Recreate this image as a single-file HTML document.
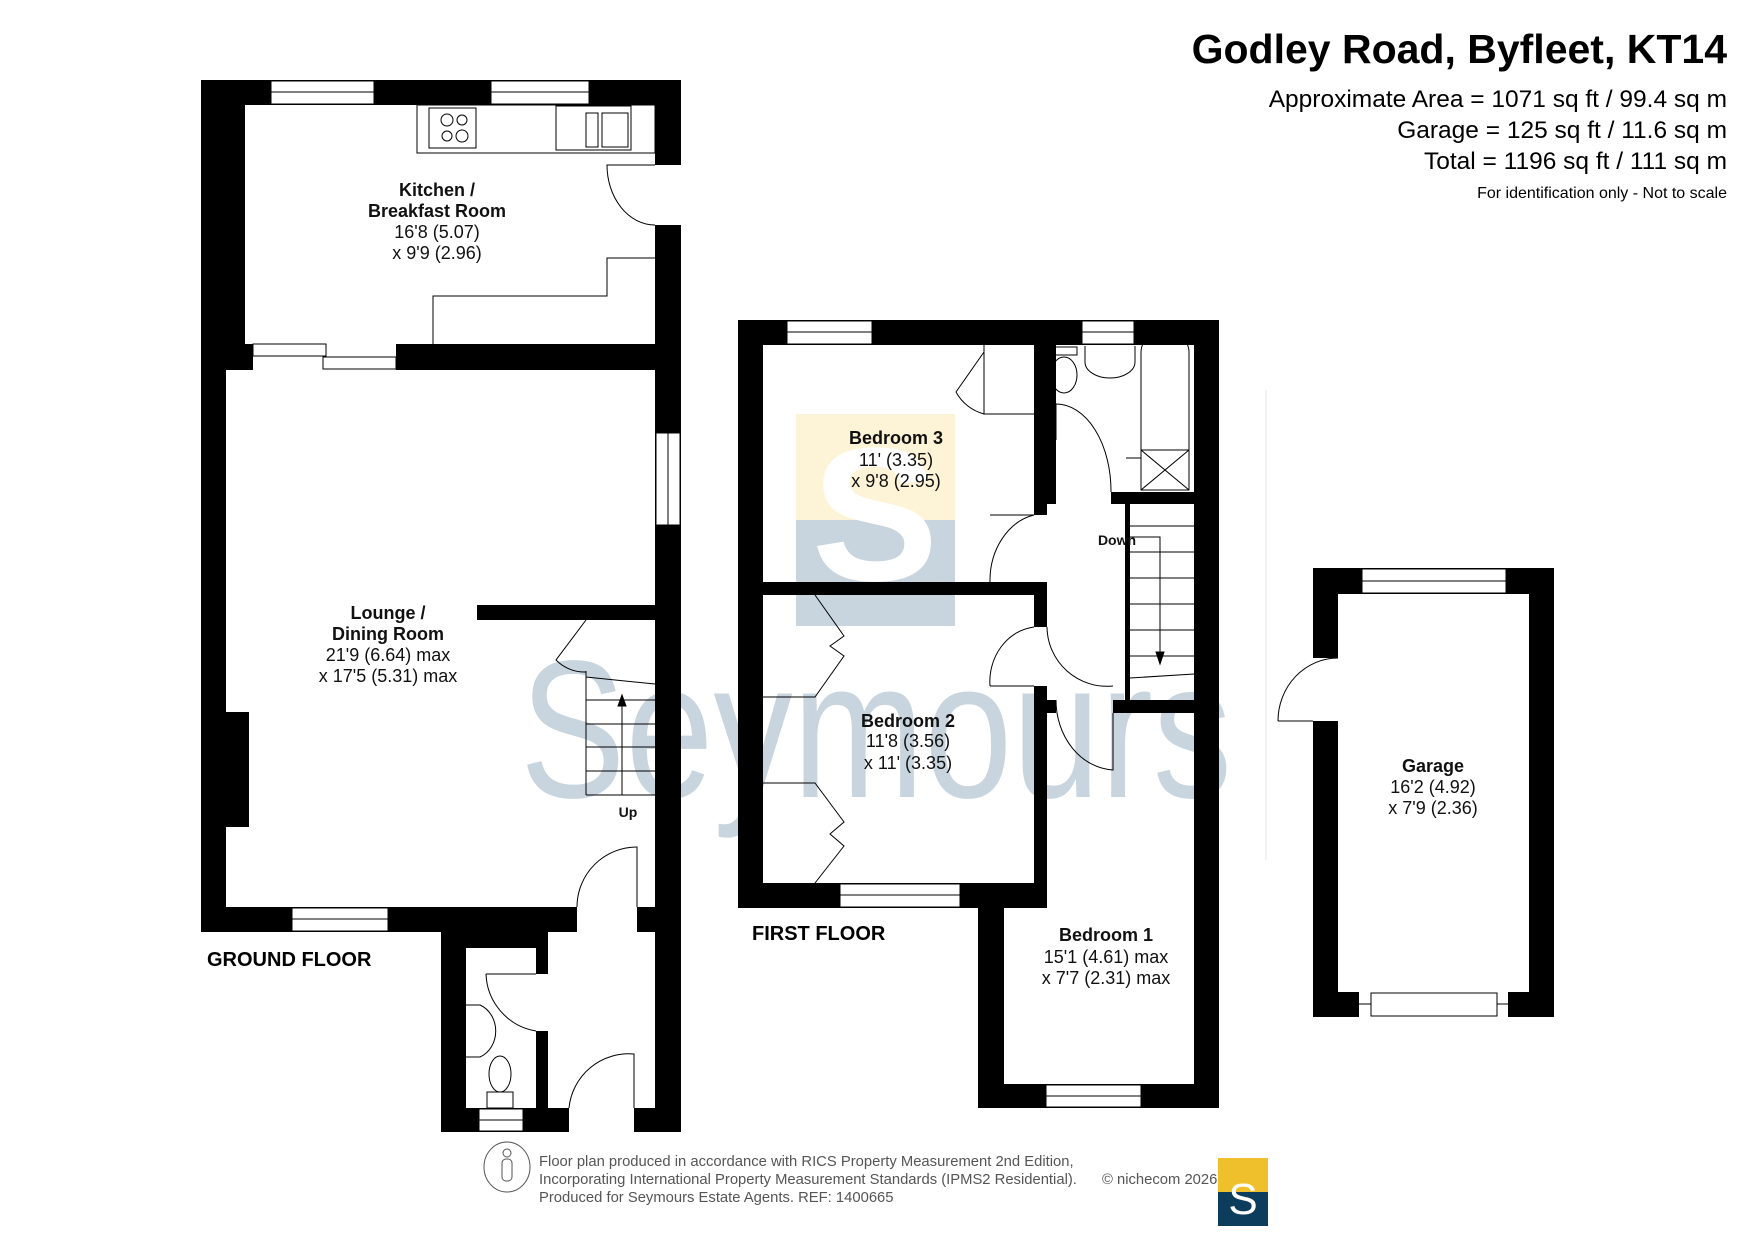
<!DOCTYPE html>
<html><head><meta charset="utf-8"><style>
html,body{margin:0;padding:0;background:#fff;}
svg{display:block;}
text{font-family:"Liberation Sans",Arial,sans-serif;}
</style></head><body>
<svg width="1755" height="1241" viewBox="0 0 1755 1241" xmlns="http://www.w3.org/2000/svg">
<!-- watermark -->
<rect x="796" y="414" width="159" height="106" fill="#fdf3d6"/>
<rect x="796" y="520" width="159" height="106" fill="#c8d5de"/>
<text x="875" y="580" font-size="190" font-weight="bold" fill="#fff" text-anchor="middle">S</text>
<text x="520" y="797" font-size="196" fill="#c8d5de" textLength="712" lengthAdjust="spacingAndGlyphs">Seymours</text>

<g fill="#000">
<!-- GROUND FLOOR -->
<rect x="201" y="80" width="480" height="25"/>
<rect x="201" y="80" width="44" height="290"/>
<rect x="201" y="344" width="52" height="26"/>
<rect x="396" y="344" width="285" height="26"/>
<rect x="201" y="344" width="25" height="588"/>
<rect x="655" y="80" width="26" height="85"/>
<rect x="655" y="225" width="26" height="907"/>
<rect x="226" y="712" width="23" height="115"/>
<rect x="477" y="605" width="178" height="15"/>
<rect x="201" y="907" width="376" height="25"/>
<rect x="637" y="907" width="44" height="25"/>
<rect x="441" y="932" width="25" height="200"/>
<rect x="441" y="932" width="107" height="16"/>
<rect x="536" y="948" width="12" height="26"/>
<rect x="536" y="1031" width="12" height="77"/>
<rect x="441" y="1108" width="128" height="24"/>
<rect x="634" y="1108" width="47" height="24"/>
<!-- FIRST FLOOR -->
<rect x="738" y="320" width="481" height="25"/>
<rect x="738" y="320" width="25" height="588"/>
<rect x="738" y="883" width="309" height="25"/>
<rect x="1194" y="320" width="25" height="788"/>
<rect x="978" y="895" width="26" height="213"/>
<rect x="978" y="1084" width="241" height="24"/>
<rect x="763" y="582" width="284" height="13"/>
<rect x="1034" y="345" width="13" height="170"/>
<rect x="1047" y="345" width="9" height="159"/>
<rect x="1034" y="582" width="13" height="45"/>
<rect x="1034" y="686" width="13" height="209"/>
<rect x="1111" y="492" width="83" height="12"/>
<rect x="1125" y="504" width="5" height="196"/>
<rect x="1113" y="700" width="81" height="13"/>
<rect x="1044" y="700" width="12" height="13"/>
<!-- GARAGE -->
<rect x="1313" y="568" width="241" height="26"/>
<rect x="1313" y="568" width="25" height="90"/>
<rect x="1313" y="721" width="25" height="296"/>
<rect x="1529" y="568" width="25" height="449"/>
<rect x="1313" y="992" width="46" height="25"/>
<rect x="1508" y="992" width="46" height="25"/>
</g>

<!-- windows -->
<g fill="#fff" stroke="#000" stroke-width="1">
<rect x="271" y="81" width="103" height="23"/><line x1="271" y1="92" x2="374" y2="92"/>
<rect x="491" y="81" width="98" height="23"/><line x1="491" y1="92" x2="589" y2="92"/>
<rect x="253" y="344" width="73" height="12"/><rect x="323" y="357" width="73" height="12"/>
<rect x="656" y="433" width="24" height="92"/><line x1="668" y1="433" x2="668" y2="525"/>
<rect x="292" y="908" width="96" height="23"/><line x1="292" y1="919" x2="388" y2="919"/>
<rect x="479" y="1109" width="44" height="22"/><line x1="479" y1="1120" x2="523" y2="1120"/>
<rect x="787" y="321" width="85" height="23"/><line x1="787" y1="332" x2="872" y2="332"/>
<rect x="1082" y="321" width="52" height="23"/><line x1="1082" y1="332" x2="1134" y2="332"/>
<rect x="840" y="884" width="120" height="23"/><line x1="840" y1="895" x2="960" y2="895"/>
<rect x="1046" y="1085" width="95" height="22"/><line x1="1046" y1="1096" x2="1141" y2="1096"/>
<rect x="1362" y="569" width="144" height="24"/><line x1="1362" y1="581" x2="1506" y2="581"/>
<rect x="1371" y="993" width="126" height="23"/>
<line x1="1359" y1="1004" x2="1371" y2="1004"/><line x1="1497" y1="1004" x2="1508" y2="1004"/>
</g>

<!-- fittings / thin lines -->
<g fill="none" stroke="#000" stroke-width="1">
<rect x="417" y="105" width="238" height="48"/>
<rect x="429" y="108" width="47" height="40"/>
<circle cx="447" cy="120" r="6"/><circle cx="462" cy="120" r="5"/><circle cx="447" cy="136" r="5"/><circle cx="462" cy="136" r="6"/>
<rect x="556" y="106" width="75" height="44"/><rect x="586" y="113" width="12" height="34"/><rect x="602" y="113" width="26" height="34"/>
<path d="M433 344 V296 H607 V258 H655"/>
<path d="M655 165 H607 A48 60 0 0 0 655 225"/>
<path d="M577 907 A60 60 0 0 1 637 847 V907"/>
<path d="M586 671 V795 M586 795 H655 M586 771 H655 M586 747 H655 M586 724 H655 M586 700 H655 M586 677 L655 684"/>
<path d="M622 795 V700"/><path d="M618 706 L622 695 L626 706 Z" fill="#000"/>
<path d="M586 620 L556 660 A40 40 0 0 0 586 672"/>
<path d="M486 974 H536 M486 974 A60 60 0 0 0 536 1031"/>
<path d="M569 1108 A60 60 0 0 1 634 1054 V1108"/>
<path d="M466 1005 H480 A25 28 0 0 1 480 1057 H466"/>
<ellipse cx="500" cy="1074" rx="11" ry="18"/><rect x="487" y="1092" width="26" height="16"/>
<!-- first floor -->
<path d="M984 345 V414 H1034 M984 352 L956 392 A45 45 0 0 0 984 414"/>
<path d="M1034 515 A55 67 0 0 0 990 582 M990 515 H1034"/>
<path d="M990 686 A50 55 0 0 1 1034 627"/>
<path d="M990 686 H1034"/>
<path d="M1047 627 A60 60 0 0 0 1113 686" />
<path d="M1056 700 A60 70 0 0 0 1113 770 V713"/>
<path d="M1056 404 A55 87 0 0 1 1111 492 M1056 404 V440"/>
<path d="M1130 526 H1194 M1130 552 H1194 M1130 578 H1194 M1130 604 H1194 M1130 630 H1194 M1130 656 H1194 M1130 678 L1194 674"/>
<path d="M1128 537 H1160 V660"/><path d="M1156 652 L1160 664 L1164 652 Z" fill="#000"/>
<path d="M1141 490 V352 A24 20 0 0 1 1189 352 V490 Z"/><path d="M1141 450 H1189 V490 M1141 450 L1189 490 M1189 450 L1141 490 M1126 458 H1141"/>
<ellipse cx="1064" cy="375" rx="13" ry="18"/><rect x="1051" y="347" width="26" height="8"/>
<path d="M1085 346 V362 A25 16 0 0 0 1135 362 V346"/>
<path d="M763 697 H815 L844 656 L830 646 L844 636 L815 595"/>
<path d="M763 783 H815 L844 822 L830 834 L844 846 L815 883"/>
<path d="M1278 721 H1313 M1278 721 A60 63 0 0 1 1338 658"/>
</g>
<line x1="1266" y1="390" x2="1266" y2="860" stroke="#e6e6e6" stroke-width="1"/>

<!-- labels -->
<g font-size="18" text-anchor="middle" fill="#111">
<text x="437" y="196" font-weight="bold">Kitchen /</text>
<text x="437" y="217" font-weight="bold">Breakfast Room</text>
<text x="437" y="238">16'8 (5.07)</text>
<text x="437" y="259">x 9'9 (2.96)</text>
<text x="388" y="619" font-weight="bold">Lounge /</text>
<text x="388" y="640" font-weight="bold">Dining Room</text>
<text x="388" y="661">21'9 (6.64) max</text>
<text x="388" y="682">x 17'5 (5.31) max</text>
<text x="896" y="444" font-weight="bold">Bedroom 3</text>
<text x="896" y="466">11' (3.35)</text>
<text x="896" y="487">x 9'8 (2.95)</text>
<text x="908" y="727" font-weight="bold">Bedroom 2</text>
<text x="908" y="747">11'8 (3.56)</text>
<text x="908" y="769">x 11' (3.35)</text>
<text x="1106" y="941" font-weight="bold">Bedroom 1</text>
<text x="1106" y="963">15'1 (4.61) max</text>
<text x="1106" y="984">x 7'7 (2.31) max</text>
<text x="1433" y="772" font-weight="bold">Garage</text>
<text x="1433" y="793">16'2 (4.92)</text>
<text x="1433" y="814">x 7'9 (2.36)</text>
<text x="628" y="817" font-size="14" font-weight="bold">Up</text>
<text x="1117" y="545" font-size="14" font-weight="bold">Down</text>
</g>
<text x="207" y="966" font-size="20" font-weight="bold">GROUND FLOOR</text>
<text x="752" y="940" font-size="20" font-weight="bold">FIRST FLOOR</text>

<g text-anchor="end" fill="#000">
<text x="1727" y="63" font-size="41" font-weight="bold">Godley Road, Byfleet, KT14</text>
<text x="1727" y="107" font-size="24.5">Approximate Area = 1071 sq ft / 99.4 sq m</text>
<text x="1727" y="138" font-size="24.5">Garage = 125 sq ft / 11.6 sq m</text>
<text x="1727" y="169" font-size="24.5">Total = 1196 sq ft / 111 sq m</text>
<text x="1727" y="198" font-size="16">For identification only - Not to scale</text>
</g>

<!-- footer -->
<ellipse cx="507" cy="1167" rx="23" ry="25" fill="none" stroke="#555" stroke-width="1"/>
<circle cx="507" cy="1153" r="4" fill="none" stroke="#555"/>
<rect x="502" y="1159" width="10" height="22" rx="4" fill="none" stroke="#555"/>
<g font-size="14.8" fill="#555">
<text x="539" y="1166">Floor plan produced in accordance with RICS Property Measurement 2nd Edition,</text>
<text x="539" y="1184">Incorporating International Property Measurement Standards (IPMS2 Residential).</text>
<text x="1102" y="1184">© nichecom 2026.</text>
<text x="539" y="1202">Produced for Seymours Estate Agents.   REF: 1400665</text>
</g>
<rect x="1218" y="1158" width="50" height="34" fill="#f0bf2c"/>
<rect x="1218" y="1192" width="50" height="34" fill="#0d3d5c"/>
<text x="1243" y="1214" font-size="44" font-family="Liberation Serif,serif" fill="#fff" text-anchor="middle">S</text>
</svg>
</body></html>
